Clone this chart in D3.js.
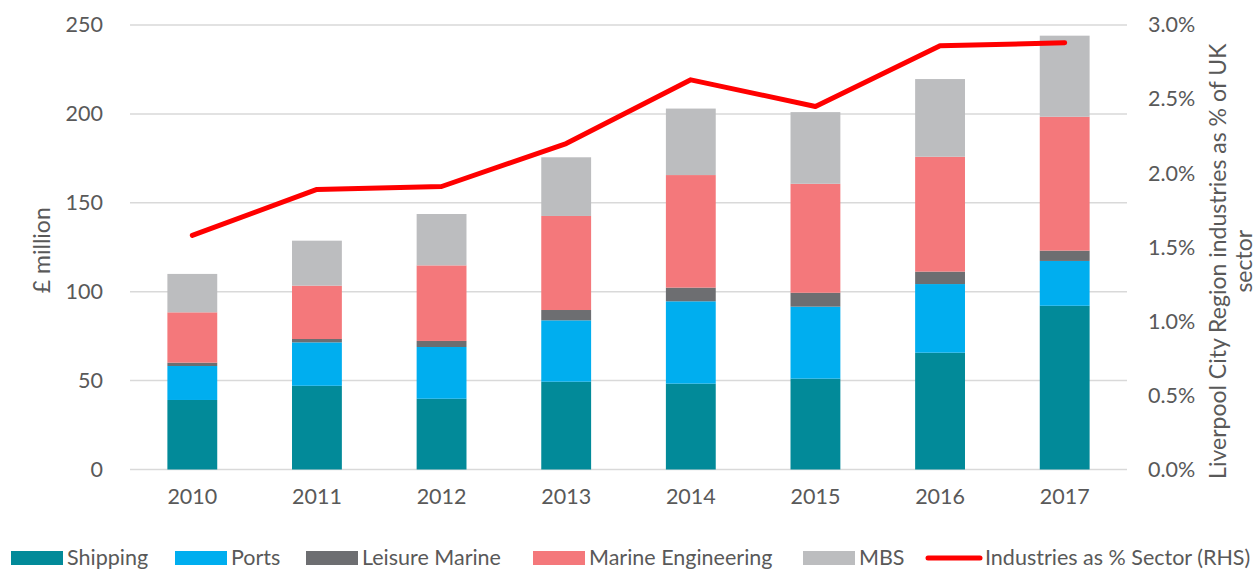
<!DOCTYPE html>
<html>
<head>
<meta charset="utf-8">
<script src="https://cdn.jsdelivr.net/npm/d3@7"></script>
<style>
  body { margin: 0; background: #fff; }
  svg text { font-family: Lato, "Open Sans", sans-serif; fill: #595959; }
</style>
</head>
<body>
<svg id="main" width="1260" height="570"></svg>
<script>
// data
const years = ["2010", "2011", "2012", "2013", "2014", "2015", "2016", "2017"];
const shipping = [39.1, 47.1, 39.8, 49.4, 48.3, 51.1, 65.7, 92.1];
const ports = [19.1, 24.4, 29.1, 34.5, 46.3, 40.5, 38.6, 25.2];
const leisure = [1.9, 1.9, 3.4, 5.8, 7.7, 7.8, 7.0, 5.8];
const marineEng = [28.3, 30.0, 42.5, 52.9, 63.3, 61.3, 64.6, 75.3];
const mbs = [21.6, 25.3, 28.9, 33.0, 37.4, 40.3, 43.7, 45.6];
const sharePct = [1.58, 1.89, 1.91, 2.20, 2.63, 2.45, 2.86, 2.88];

const seriesNames = ["Shipping", "Ports", "Leisure Marine", "Marine Engineering", "MBS"];
const seriesColors = ["#028A99", "#00AEEF", "#6D6E71", "#F4787B", "#BCBDBF"];
const leftTicks = [0, 50, 100, 150, 200, 250];
const rightTicks = [0, 0.5, 1.0, 1.5, 2.0, 2.5, 3.0];

function draw() {
    const svg = d3.select("#main");
    const left = 130, right = 1127, top = 25, bottom = 469.5;

    const rows = years.map((y, i) => ({
        year: y,
        "Shipping": shipping[i],
        "Ports": ports[i],
        "Leisure Marine": leisure[i],
        "Marine Engineering": marineEng[i],
        "MBS": mbs[i]
    }));

    const x = d3.scaleBand().domain(years).range([left, right]).paddingInner(0.6).paddingOuter(0.3);
    const y = d3.scaleLinear().domain([0, 250]).range([bottom, top]);
    const y2 = d3.scaleLinear().domain([0, 3.0]).range([bottom, top]);

    // gridlines
    svg.append('g').selectAll('line')
        .data(leftTicks)
        .join('line')
        .attr('x1', left)
        .attr('x2', right)
        .attr('y1', d => y(d))
        .attr('y2', d => y(d))
        .attr('stroke', '#D9D9D9')
        .attr('stroke-width', 1.5);

    // left axis
    const ax = svg.append('g')
        .attr('transform', `translate(${left},0)`)
        .call(d3.axisLeft(y).tickValues(leftTicks).tickSize(0).tickPadding(27));
    ax.select('.domain').remove();
    ax.selectAll('text').style('font-size', '21.5px').attr('fill', '#595959');

    // right axis
    const ax2 = svg.append('g')
        .attr('transform', `translate(${right},0)`)
        .call(d3.axisRight(y2).tickValues(rightTicks).tickSize(0).tickPadding(21)
            .tickFormat(d => d.toFixed(1) + "%"));
    ax2.select('.domain').remove();
    ax2.selectAll('text').style('font-size', '21.5px').attr('fill', '#595959');

    // bottom axis
    const bx = svg.append('g')
        .attr('transform', `translate(0,${bottom})`)
        .call(d3.axisBottom(x).tickSize(0).tickPadding(19));
    bx.select('.domain').remove();
    bx.selectAll('text').style('font-size', '21.5px').attr('fill', '#595959');

    // stacked bars
    const stacked = d3.stack().keys(seriesNames)(rows);
    svg.append('g').selectAll('g')
        .data(stacked)
        .join('g')
        .attr('fill', (d, i) => seriesColors[i])
        .selectAll('rect')
        .data(d => d)
        .join('rect')
        .attr('x', d => x(d.data.year))
        .attr('y', d => y(d[1]))
        .attr('width', x.bandwidth())
        .attr('height', d => y(d[0]) - y(d[1]));

    // line on RHS axis
    const line = d3.line()
        .x((d, i) => x(years[i]) + x.bandwidth() / 2)
        .y(d => y2(d));
    svg.append('path')
        .datum(sharePct)
        .attr('d', line)
        .attr('fill', 'none')
        .attr('stroke', '#FF0000')
        .attr('stroke-width', 5)
        .attr('stroke-linecap', 'round')
        .attr('stroke-linejoin', 'round');

    // axis titles
    svg.append('text')
        .attr('transform', `translate(50,${(top + bottom) / 2 + 3}) rotate(-90)`)
        .attr('text-anchor', 'middle')
        .style('font-size', '23px')
        .text('£ million');

    const t2 = svg.append('text')
        .attr('transform', `translate(1226,${(top + bottom) / 2 + 14}) rotate(-90)`)
        .attr('text-anchor', 'middle')
        .style('font-size', '23px');
    t2.append('tspan').attr('x', 0).attr('dy', 0).text('Liverpool City Region industries as % of UK');
    t2.append('tspan').attr('x', 0).attr('dy', 26).text('sector');

    // legend
    const legendX = [11, 175, 306, 533, 803];
    const lg = svg.append('g');
    seriesNames.forEach((name, i) => {
        lg.append('rect')
            .attr('x', legendX[i])
            .attr('y', 551)
            .attr('width', 52)
            .attr('height', 14)
            .attr('fill', seriesColors[i]);
        lg.append('text')
            .attr('x', legendX[i] + 56)
            .attr('y', 565)
            .style('font-size', '21.5px')
            .text(name);
    });
    lg.append('line')
        .attr('x1', 928).attr('x2', 980)
        .attr('y1', 558).attr('y2', 558)
        .attr('stroke', '#FF0000')
        .attr('stroke-width', 5)
        .attr('stroke-linecap', 'round');
    lg.append('text')
        .attr('x', 985)
        .attr('y', 565)
        .style('font-size', '21.5px')
        .text('Industries as % Sector (RHS)');
}

draw();
</script>
</body>
</html>
